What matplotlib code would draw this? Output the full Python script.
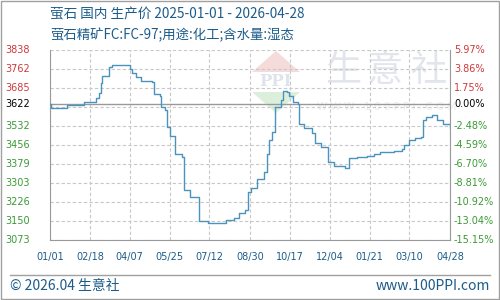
import pandas as pd
import matplotlib.pyplot as plt
import matplotlib.transforms as mtransforms
from matplotlib.patches import Rectangle, Polygon

plt.rcParams['font.family'] = ['Noto Sans CJK SC', 'DejaVu Sans']

# price change points (step series)
change_dates = [
    '2025-01-01', '2025-01-02', '2025-01-22', '2025-02-11', '2025-02-26', '2025-03-01',
    '2025-03-03', '2025-03-05', '2025-03-13', '2025-03-17', '2025-04-08', '2025-04-10',
    '2025-04-15', '2025-04-21', '2025-05-04', '2025-05-06', '2025-05-13', '2025-05-15',
    '2025-05-20', '2025-05-22', '2025-05-26', '2025-06-01', '2025-06-09', '2025-06-11',
    '2025-06-19', '2025-06-30', '2025-07-10', '2025-08-01', '2025-08-11', '2025-08-17',
    '2025-08-24', '2025-08-27', '2025-08-31', '2025-09-08', '2025-09-16', '2025-09-20',
    '2025-09-22', '2025-09-26', '2025-09-29', '2025-10-06', '2025-10-09', '2025-10-14',
    '2025-10-16', '2025-10-21', '2025-10-27', '2025-10-28', '2025-11-03', '2025-11-13',
    '2025-11-16', '2025-11-23', '2025-12-02', '2025-12-09', '2025-12-23', '2025-12-27',
    '2026-01-06', '2026-01-18', '2026-01-26', '2026-02-03', '2026-02-19', '2026-03-01',
    '2026-03-04', '2026-03-10', '2026-03-17', '2026-03-24', '2026-03-27', '2026-03-30',
    '2026-04-06', '2026-04-12', '2026-04-19', '2026-04-28',
]
change_values = [
    3622, 3605, 3615, 3627, 3645, 3664,
    3704, 3733, 3768, 3776, 3760, 3744,
    3730, 3713, 3708, 3660, 3654, 3610,
    3596, 3529, 3493, 3418, 3408, 3274,
    3247, 3149, 3140, 3153, 3160, 3180,
    3194, 3267, 3284, 3319, 3348, 3420,
    3476, 3509, 3610, 3637, 3674, 3670,
    3653, 3630, 3619, 3540, 3523, 3503,
    3462, 3449, 3386, 3371, 3362, 3402,
    3406, 3411, 3418, 3428, 3432, 3439,
    3455, 3476, 3482, 3486, 3556, 3569,
    3576, 3556, 3540, 3523,
]

base_price = 3622
grid_values = [3073, 3149.5, 3226, 3302.5, 3379, 3455.5, 3532, 3608.5, 3685, 3761.5, 3838]
label_values = [3838, 3761.5, 3685, 3622, 3532, 3455.5, 3379, 3302.5, 3226, 3149.5, 3073]
left_labels = ['3838', '3762', '3685', '3622', '3532', '3456', '3379', '3303', '3226', '3150', '3073']
right_labels = ['5.97%', '3.86%', '1.75%', '0.00%', '-2.48%', '-4.59%', '-6.70%', '-8.81%',
                '-10.92%', '-13.04%', '-15.15%']
x_tick_dates = ['2025-01-01', '2025-02-18', '2025-04-07', '2025-05-25', '2025-07-12', '2025-08-30',
                '2025-10-17', '2025-12-04', '2026-01-21', '2026-03-10', '2026-04-28']
x_tick_labels = ['01/01', '02/18', '04/07', '05/25', '07/12', '08/30',
                 '10/17', '12/04', '01/21', '03/10', '04/28']

BLUE = '#1b5c8a'
RED = '#d0373a'
GREEN = '#3a9a35'


def draw_watermark(ax):
    for x, ch in zip([0.7325, 0.8375, 0.9475], '生意社'):
        ax.text(x, 0.889, ch, transform=ax.transAxes, fontsize=26, color='#e2e5ec',
                ha='center', va='center', zorder=0)
    ax.text(0.8425, 0.70, 'W W W . 1 0 0 P P I . C O M', transform=ax.transAxes, fontsize=7.5,
            color='#ebecef', ha='center', va='center', zorder=0, family='DejaVu Sans')
    ax.add_patch(Polygon([(0.505, 0.884), (0.625, 0.884), (0.565, 0.995)], closed=True,
                         transform=ax.transAxes, color='#f5dcda', zorder=0, linewidth=0))
    ax.add_patch(Polygon([(0.505, 0.779), (0.625, 0.779), (0.565, 0.668)], closed=True,
                         transform=ax.transAxes, color='#dcefdd', zorder=0, linewidth=0))
    ax.text(0.565, 0.832, 'PPI', transform=ax.transAxes, fontsize=12, color='#dfe3ec',
            ha='center', va='center', zorder=0, family='DejaVu Serif', fontweight='bold')


def main():
    dates = pd.to_datetime(change_dates)
    ticks = pd.to_datetime(x_tick_dates)

    fig = plt.figure(figsize=(5, 3), dpi=100)
    fig.patches.append(Rectangle((0.002, 0.003), 0.996, 0.994, transform=fig.transFigure,
                                 fill=False, edgecolor='#a0a0a0', linewidth=1))

    ax = fig.add_axes([50 / 500, 60 / 300, 400 / 500, 190 / 300])
    ax.set_xlim(ticks[0], ticks[-1])
    ax.set_ylim(grid_values[0], grid_values[-1])

    draw_watermark(ax)

    ax.set_yticks(grid_values)
    ax.set_xticks(ticks)
    ax.grid(True, color='#c8c8c8', linestyle=(0, (3, 2)), linewidth=0.8)
    ax.tick_params(length=0, labelleft=False, labelbottom=False)
    for side in ['left', 'bottom', 'right']:
        ax.spines[side].set_color('#999999')
    ax.spines['top'].set_visible(False)

    ax.axhline(base_price, color='#999999', linewidth=1, zorder=2)
    ax.plot(dates, change_values, drawstyle='steps-post', color='#4a93bd', linewidth=1.0, zorder=3)

    ytrans = mtransforms.blended_transform_factory(fig.transFigure, ax.transData)
    for val, left, right in zip(label_values, left_labels, right_labels):
        if val > base_price:
            color = RED
        elif val == base_price:
            color = 'black'
        else:
            color = GREEN
        ax.text(5 / 500, val, left, transform=ytrans, ha='left', va='center', clip_on=False,
                fontsize=7, color=color, family='DejaVu Sans')
        ax.text(454 / 500, val, right, transform=ytrans, ha='left', va='center', clip_on=False,
                fontsize=7, color=color, family='DejaVu Sans')

    xtrans = mtransforms.blended_transform_factory(ax.transData, fig.transFigure)
    for t, lab in zip(ticks, x_tick_labels):
        ax.text(t, 1 - 257 / 300, lab, transform=xtrans, ha='center', va='center', clip_on=False,
                fontsize=7, color=BLUE, family='DejaVu Sans')

    fig.text(50 / 500, 1 - 14 / 300, '萤石 国内 生产价 2025-01-01 - 2026-04-28',
             ha='left', va='center', fontsize=9.8, color=BLUE)
    fig.text(50 / 500, 1 - 35 / 300, '萤石精矿FC:FC-97;用途:化工;含水量:湿态',
             ha='left', va='center', fontsize=9.6, color=BLUE)

    fig.lines.append(plt.Line2D([10 / 500, 490 / 500], [1 - 275 / 300, 1 - 275 / 300],
                                transform=fig.transFigure, color='#a0a0a0', linewidth=1))
    fig.text(10 / 500, 1 - 286 / 300, '© 2026.04 生意社', ha='left', va='center',
             fontsize=10, color=BLUE)
    fig.text(490 / 500, 1 - 286 / 300, 'www.100PPI.com', ha='right', va='center',
             fontsize=10, color=BLUE)

    plt.savefig('out.png', dpi=100)


if __name__ == "__main__":
    main()
